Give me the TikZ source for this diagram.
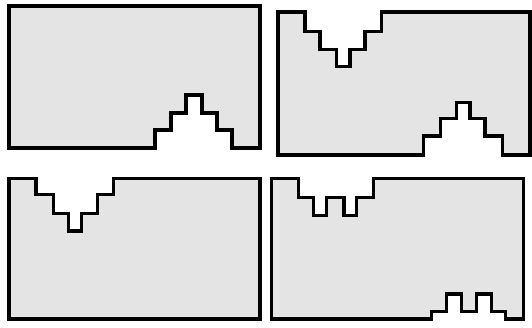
\documentclass[tikz,border=0pt]{standalone}
\definecolor{panelfill}{RGB}{228,228,228}
\tikzset{panel/.style={fill=panelfill,draw=black,line width=3.3pt,line join=miter}}
\begin{document}
\begin{tikzpicture}[x=1pt,y=-1pt]
\useasboundingbox (0,0) rectangle (532,327);
% panel 1
\path[panel] (9,6) -- (260,6) -- (260,148) -- (232,148) -- (232,130) -- (217,130) -- (217,113)
  -- (202,113) -- (202,95) -- (186,95) -- (186,113) -- (171,113) -- (171,130) -- (155,130)
  -- (155,148) -- (9,148) -- cycle;
% panel 2
\path[panel] (278,12) -- (305,12) -- (305,31.7) -- (320,31.7) -- (320,49.3) -- (336.7,49.3)
  -- (336.7,66.7) -- (350,66.7) -- (350,49.3) -- (365,49.3) -- (365,31.7) -- (381.7,31.7)
  -- (381.7,12) -- (530,12) -- (530,155) -- (502.3,155) -- (502.3,136) -- (485,136)
  -- (485,118.3) -- (470,118.3) -- (470,102.7) -- (456.7,102.7) -- (456.7,118.3) -- (440.7,118.3)
  -- (440.7,136) -- (423.3,136) -- (423.3,155) -- (278,155) -- cycle;
% panel 3
\path[panel] (9,178.3) -- (36,178.3) -- (36,194.3) -- (53.3,194.3) -- (53.3,213.3) -- (68.3,213.3)
  -- (68.3,231) -- (81.7,231) -- (81.7,213.3) -- (97.7,213.3) -- (97.7,194.3) -- (113.3,194.3)
  -- (113.3,178.3) -- (260,178.3) -- (260,319) -- (9,319) -- cycle;
% panel 4
\path[panel] (271.7,178.3) -- (298.3,178.3) -- (298.3,197.7) -- (313.3,197.7) -- (313.3,215.7)
  -- (326.7,215.7) -- (326.7,197.7) -- (344,197.7) -- (344,215.7) -- (356.7,215.7) -- (356.7,197.7)
  -- (373.3,197.7) -- (373.3,178.3) -- (523.3,178.3) -- (523.3,319) -- (505.7,319) -- (505.7,311.7)
  -- (491.7,311.7) -- (491.7,294) -- (476.7,294) -- (476.7,311.7) -- (461.7,311.7) -- (461.7,294)
  -- (446.7,294) -- (446.7,311.7) -- (431.7,311.7) -- (431.7,319) -- (271.7,319) -- cycle;
\end{tikzpicture}
\end{document}
